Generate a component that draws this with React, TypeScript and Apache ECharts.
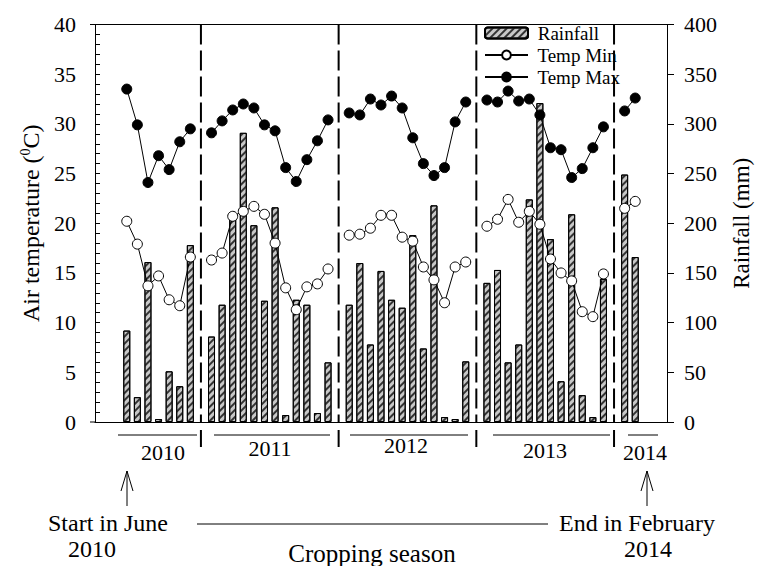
import React, { useEffect, useRef } from 'react';
import * as echarts from 'echarts';

// ---- data ----
const years = ['2010', '2011', '2012', '2013', '2014'];
const monthNames = ['Jan', 'Feb', 'Mar', 'Apr', 'May', 'Jun', 'Jul', 'Aug', 'Sep', 'Oct', 'Nov', 'Dec'];
const firstMonth = [5, 0, 0, 0, 0]; // June 2010 start, others January

const rain2010 = [92, 25, 161, 3, 51, 36, 178];
const rain2011 = [86, 118, 205, 291, 198, 122, 216, 7, 123, 118, 9, 60];
const rain2012 = [118, 160, 78, 152, 123, 115, 188, 74, 218, 5, 3, 61];
const rain2013 = [140, 153, 60, 78, 224, 321, 184, 41, 209, 27, 5, 144];
const rain2014 = [249, 166];

const tmin2010 = [20.2, 17.9, 13.7, 14.7, 12.3, 11.7, 16.6];
const tmin2011 = [16.3, 17.0, 20.7, 21.2, 21.7, 20.9, 18.0, 13.5, 11.3, 13.6, 13.9, 15.4];
const tmin2012 = [18.8, 18.9, 19.5, 20.8, 20.8, 18.6, 18.2, 15.6, 14.3, 12.0, 15.6, 16.1];
const tmin2013 = [19.7, 20.4, 22.4, 20.1, 21.2, 19.9, 16.4, 15.0, 14.2, 11.1, 10.6, 14.9];
const tmin2014 = [21.5, 22.2];

const tmax2010 = [33.5, 29.9, 24.1, 26.8, 25.4, 28.2, 29.5];
const tmax2011 = [29.1, 30.3, 31.4, 32.0, 31.6, 29.9, 29.3, 25.6, 24.2, 26.4, 28.3, 30.4];
const tmax2012 = [31.1, 30.9, 32.5, 31.9, 32.8, 31.6, 28.6, 26.0, 24.8, 25.6, 30.2, 32.2];
const tmax2013 = [32.4, 32.2, 33.3, 32.3, 32.5, 30.9, 27.6, 27.4, 24.6, 25.5, 27.6, 29.7];
const tmax2014 = [31.3, 32.6];

const tempTicks = { min: 0, max: 40, interval: 5 };
const rainTicks = { min: 0, max: 400, interval: 50 };

const PAD = 3;
const FONT = 'Liberation Serif';

function buildCategories(): string[] {
  const out: string[] = [];
  for (let i = 0; i < PAD; i++) out.push('padL' + i);
  const lens = [rain2010.length, rain2011.length, rain2012.length, rain2013.length, rain2014.length];
  years.forEach((y, k) => {
    if (k > 0) out.push('sep' + y);
    for (let m = 0; m < lens[k]; m++) out.push(monthNames[firstMonth[k] + m] + ' ' + y);
  });
  for (let i = 0; i < PAD; i++) out.push('padR' + i);
  return out;
}

function buildSeries(arrs: number[][]): (number | string)[] {
  const out: (number | string)[] = [];
  for (let i = 0; i < PAD; i++) out.push('-');
  arrs.forEach((a, k) => {
    if (k > 0) out.push('-');
    out.push(...a);
  });
  for (let i = 0; i < PAD; i++) out.push('-');
  return out;
}

const categories = buildCategories();
const rainData = buildSeries([rain2010, rain2011, rain2012, rain2013, rain2014]);
const tminData = buildSeries([tmin2010, tmin2011, tmin2012, tmin2013, tmin2014]);
const tmaxData = buildSeries([tmax2010, tmax2011, tmax2012, tmax2013, tmax2014]);

export default function App() {
  const ref = useRef<HTMLDivElement>(null);
  useEffect(() => {
    document.body.style.margin = '0';
    const chart = echarts.init(ref.current!, null, { renderer: 'svg' });
    const axisLabel = { fontFamily: FONT, fontSize: 22, color: '#000' };
    chart.setOption({
      animation: false,
      backgroundColor: '#fff',
      grid: { left: 95, right: 91.5, top: 24.5, bottom: 144 },
      legend: {
        data: ['Rainfall', 'Temp Min', 'Temp Max'],
        orient: 'vertical',
        left: 484,
        top: 23.5,
        itemWidth: 43,
        itemHeight: 11,
        itemGap: 3,
        padding: 0,
        formatter: (name: string) => ' ' + name,
        textStyle: { fontFamily: FONT, fontSize: 19, color: '#000' },
      },
      xAxis: {
        type: 'category',
        data: categories,
        boundaryGap: false,
        axisLine: { show: true, lineStyle: { color: '#000', width: 1 } },
        axisTick: { show: false },
        axisLabel: { show: false },
        splitLine: { show: false },
      },
      yAxis: [
        {
          type: 'value',
          position: 'left',
          ...tempTicks,
          name: 'Air temperature ({sup|0}C)',
          nameLocation: 'middle',
          nameGap: 52,
          nameRotate: 90,
          nameTextStyle: {
            fontFamily: FONT, fontSize: 24, color: '#000',
            rich: { sup: { fontFamily: FONT, fontSize: 14, color: '#000', verticalAlign: 'top', padding: [0, 0, 11, 0] } },
          },
          axisLine: { show: true, lineStyle: { color: '#000', width: 1 } },
          axisTick: { show: true, inside: true, length: 5, lineStyle: { color: '#000' } },
          minorTick: { show: true, splitNumber: 5, length: 5, lineStyle: { color: '#000' } },
          splitLine: { show: false },
          axisLabel: { ...axisLabel, margin: 19 },
        },
        {
          type: 'value',
          position: 'right',
          ...rainTicks,
          name: 'Rainfall (mm)',
          nameLocation: 'middle',
          nameGap: 63,
          nameRotate: 90,
          nameTextStyle: { fontFamily: FONT, fontSize: 23, color: '#000' },
          axisLine: { show: true, lineStyle: { color: '#000', width: 1 } },
          axisTick: { show: true, inside: false, length: 7, lineStyle: { color: '#000' } },
          splitLine: { show: false },
          axisLabel: { ...axisLabel, margin: 17 },
        },
      ],
      series: [
        {
          name: 'Rainfall',
          type: 'bar',
          yAxisIndex: 1,
          data: rainData,
          barWidth: 7,
          itemStyle: {
            color: '#c8c8c8',
            borderColor: '#000',
            borderWidth: 1,
            decal: {
              symbol: 'rect',
              symbolSize: 1,
              dashArrayX: [1, 0],
              dashArrayY: [1.1, 2.8],
              rotation: -Math.PI / 4,
              color: '#333',
              backgroundColor: '#c8c8c8',
            },
          },
          z: 1,
        },
        {
          name: 'Temp Min',
          type: 'line',
          yAxisIndex: 0,
          data: tminData,
          connectNulls: false,
          symbol: 'circle',
          symbolSize: 10,
          showAllSymbol: true,
          lineStyle: { color: '#000', width: 1 },
          itemStyle: { color: '#fff', borderColor: '#000', borderWidth: 1 },
          z: 3,
        },
        {
          name: 'Temp Max',
          type: 'line',
          yAxisIndex: 0,
          data: tmaxData,
          connectNulls: false,
          symbol: 'circle',
          symbolSize: 10,
          showAllSymbol: true,
          lineStyle: { color: '#000', width: 1 },
          itemStyle: { color: '#000', borderColor: '#000', borderWidth: 1 },
          z: 3,
        },
      ],
    });

    // decorations positioned with the chart's own scales
    const px = (cat: string) => chart.convertToPixel({ xAxisIndex: 0 }, cat) as number;
    const yTop = chart.convertToPixel({ yAxisIndex: 0 }, tempTicks.max) as number;
    const yBot = chart.convertToPixel({ yAxisIndex: 0 }, tempTicks.min) as number;
    const xL = px(categories[0]);
    const xR = px(categories[categories.length - 1]);
    const stroke = { stroke: '#000', lineWidth: 1 };
    const txt = (text: string, x: number, y: number, size = 22) => ({
      type: 'text', x, y, silent: true,
      style: { text, fontFamily: FONT, fontSize: size, fill: '#000', align: 'center', verticalAlign: 'middle', textAlign: 'center', textVerticalAlign: 'middle' },
    });
    const line = (x1: number, y1: number, x2: number, y2: number, extra: any = {}) => ({
      type: 'line', silent: true, shape: { x1, y1, x2, y2 }, style: { ...stroke, ...extra },
    });
    const els: any[] = [];
    els.push(line(xL - 5, yTop, xR, yTop));
    els.push(line(xL - 5, yBot, xL, yBot));
    years.slice(1).forEach((y) => {
      const x = px('sep' + y);
      els.push(line(x, yTop, x, yBot, { lineWidth: 2, lineDash: [20, 6] }));
      els.push(line(x, yBot + 8, x, yBot + 25, { lineWidth: 2 }));
    });
    // year bars and labels
    const yearSpans = [[118, 197, 163, 452], [214, 330, 270, 448], [350, 468, 406, 445], [493, 610, 545, 450], [628, 658, 645, 452]];
    years.forEach((y, k) => {
      const [a, b, c, ty] = yearSpans[k];
      els.push(line(a, 435, b, 435));
      els.push(txt(y, c, ty));
    });
    // arrows
    const arrowX = [127, 647];
    arrowX.forEach((x) => {
      els.push(line(x, 506, x, 471));
      els.push({ type: 'polyline', silent: true, shape: { points: [[x - 6, 491], [x, 471], [x + 6, 491]] }, style: { ...stroke, fill: 'none' } });
    });
    els.push(txt('Start in June', 108, 523, 24));
    els.push(txt('2010', 92, 549, 24));
    els.push(txt('End in February', 637, 523, 24));
    els.push(txt('2014', 648, 549, 24));
    els.push(line(197, 524, 548, 524));
    els.push(txt('Cropping season', 372, 553, 25));
    chart.setOption({ graphic: { elements: els } });

    return () => chart.dispose();
  }, []);
  return <div ref={ref} style={{ position: 'absolute', left: 0, top: 0, width: 761, height: 566 }} />;
}
